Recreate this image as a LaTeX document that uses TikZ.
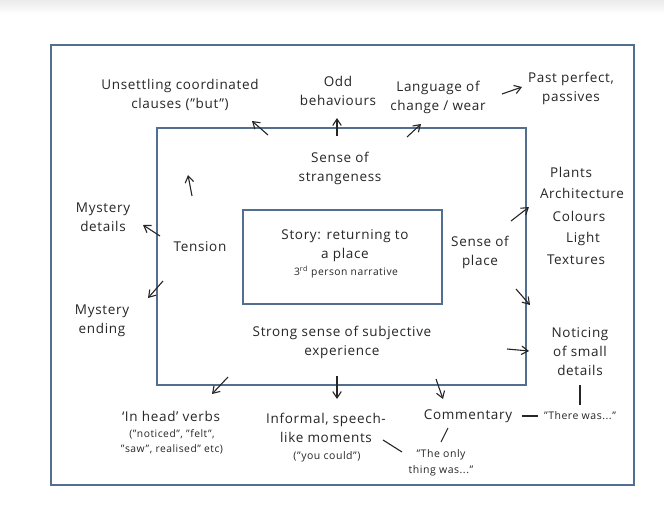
\documentclass[tikz,border=0pt]{standalone}
\usepackage{fontspec}
\setmainfont{Open Sans}[LetterSpace=5]
\usetikzlibrary{arrows.meta}
\definecolor{boxc}{RGB}{82,112,142}
\definecolor{ink}{RGB}{38,38,38}
\newcommand{\bigtxt}{\fontsize{13.5}{19}\selectfont}
\newcommand{\midtxt}{\fontsize{10.5}{15.5}\selectfont}
\newcommand{\smtxt}{\fontsize{10.3}{15}\selectfont}
\tikzset{
  box/.style={draw=boxc, line width=2pt, inner sep=0pt, outer sep=0pt, anchor=north west},
  lbl/.style={align=center, text=ink, font=\bigtxt, inner sep=0pt},
  mlbl/.style={lbl, font=\midtxt},
  slbl/.style={lbl, font=\smtxt},
  arr/.style={draw=ink, line width=1.1pt, -{Straight Barb[length=6.5pt,width=8.5pt]}},
  tie/.style={draw=ink, line width=1.1pt}
}
\begin{document}
\begin{tikzpicture}[x=1pt,y=-1pt]
\useasboundingbox (0,0) rectangle (664,506);
\fill[white] (0,0) rectangle (664,506);
\shade[top color=black!8, bottom color=white] (0,0) rectangle (664,14);

% boxes
\node[box, minimum width=583pt, minimum height=440pt] (outer) at (51,45) {};
\node[box, minimum width=369pt, minimum height=257pt] (middle) at (157,128) {};
\node[box, minimum width=199pt, minimum height=94pt] (inner) at (243,210) {};

% centre
\node[lbl] (story) at (345,246) {Story: returning to\\a place};
\node[slbl] (narr) at (346,272) {3\textsuperscript{rd} person narrative};

% middle ring labels
\node[lbl] (strange) at (340,168) {Sense of\\strangeness};
\node[lbl] (tension) at (200,247) {Tension};
\node[lbl] (place) at (480,252) {Sense of\\place};
\node[lbl] (subj) at (342,342) {Strong sense of subjective\\experience};

% top
\node[lbl] (unsettle) at (180,95) {Unsettling coordinated\\clauses ("but")};
\node[lbl] (odd) at (338,91) {Odd\\behaviours};
\node[lbl] (lang) at (438,97) {Language of\\change / wear};
\node[lbl] (past) at (571,88) {Past perfect,\\passives};

% left
\node[lbl] (mdet) at (103,217) {Mystery\\details};
\node[lbl] (mend) at (102,321) {Mystery\\ending};

% right
\node[lbl] (plants) at (571,172) {Plants};
\node[lbl] (arch) at (582,193) {Architecture};
\node[lbl] (colours) at (579,216) {Colours};
\node[lbl] (light) at (583,239) {Light};
\node[lbl] (text) at (576,260) {Textures};
\node[lbl] (notice) at (580,352) {Noticing\\of small\\details};

% bottom
\node[lbl] (inhead) at (171,416) {‘In head’ verbs};
\node[slbl] (inheadex) at (172,442) {("noticed", "felt",\\"saw", realised" etc)};
\node[lbl] (informal) at (326,428) {Informal, speech-\\like moments};
\node[mlbl] (youcould) at (327,457) {("you could")};
\node[lbl] (comment) at (468,416) {Commentary};
\node[mlbl] (therewas) at (580,416) {"There was..."};
\node[mlbl] (theonly) at (441,463) {"The only\\thing was..."};

% arrow end points
\coordinate (a1s) at (268,135); \coordinate (a1e) at (252,121);
\coordinate (a2s) at (337,136); \coordinate (a2e) at (337,118);
\coordinate (a3s) at (407,137); \coordinate (a3e) at (421,124);
\coordinate (a4s) at (502,94);  \coordinate (a4e) at (522,87);
\coordinate (a5s) at (192,196); \coordinate (a5e) at (188,175);
\coordinate (a6s) at (160,236); \coordinate (a6e) at (143,225);
\coordinate (a7s) at (163,281); \coordinate (a7e) at (148,298);
\coordinate (a8s) at (511,221); \coordinate (a8e) at (529,207);
\coordinate (a9s) at (516,289); \coordinate (a9e) at (530,305);
\coordinate (a10s) at (507,349); \coordinate (a10e) at (529,351);
\coordinate (a11s) at (228,377); \coordinate (a11e) at (212,394);
\coordinate (a12s) at (337,376); \coordinate (a12e) at (337,399);
\coordinate (a13s) at (436,379); \coordinate (a13e) at (443,399);

\draw[arr] (a1s) -- (a1e);
\draw[arr] (a2s) -- (a2e);
\draw[arr] (a3s) -- (a3e);
\draw[arr] (a4s) -- (a4e);
\draw[arr] (a5s) -- (a5e);
\draw[arr] (a6s) -- (a6e);
\draw[arr] (a7s) -- (a7e);
\draw[arr] (a8s) -- (a8e);
\draw[arr] (a9s) -- (a9e);
\draw[arr] (a10s) -- (a10e);
\draw[arr] (a11s) -- (a11e);
\draw[arr] (a12s) -- (a12e);
\draw[arr] (a13s) -- (a13e);

% plain ties
\coordinate (t1s) at (383,440); \coordinate (t1e) at (402,452);
\coordinate (t2s) at (448,428); \coordinate (t2e) at (441,442);
\coordinate (t3s) at (522,416); \coordinate (t3e) at (538,416);
\coordinate (t4s) at (580,385); \coordinate (t4e) at (580,405);
\draw[tie] (t1s) -- (t1e);
\draw[tie] (t2s) -- (t2e);
\draw[tie] (t3s) -- (t3e);
\draw[tie] (t4s) -- (t4e);
\end{tikzpicture}
\end{document}
